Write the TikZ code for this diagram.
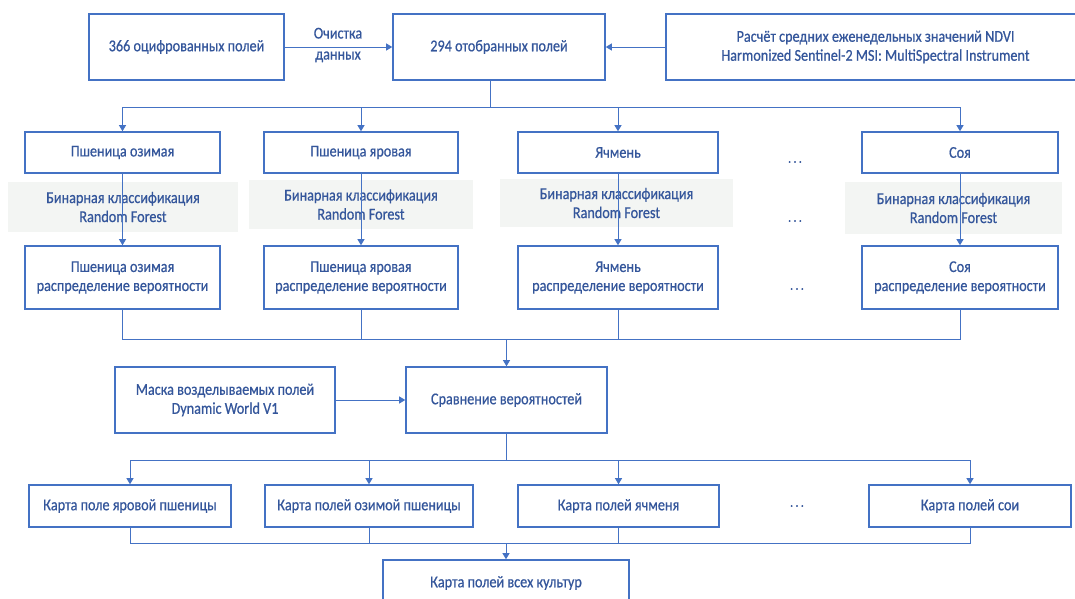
\documentclass[tikz,border=0pt]{standalone}
\usepackage{fontspec}
\setmainfont{Carlito}[FakeStretch=0.86,FakeBold=0.6]
\usetikzlibrary{arrows.meta}
\definecolor{lineblue}{RGB}{68,114,196}
\definecolor{txtblue}{RGB}{52,86,155}
\definecolor{shade}{RGB}{243,245,243}
\tikzset{
  box/.style={draw=lineblue, line width=1.6pt, fill=white, text=txtblue, align=center, inner sep=2pt, font=\fontsize{16.5}{19}\selectfont},
  shadebox/.style={fill=shade, draw=none, text=txtblue, align=center, inner sep=2pt, font=\fontsize{16.5}{19}\selectfont},
  lbl/.style={text=txtblue, align=center, inner sep=0pt, font=\fontsize{16.5}{21}\selectfont},
  dotlbl/.style={text=txtblue, inner sep=0pt, font=\fontsize{14}{18}\selectfont},
  conn/.style={draw=lineblue, line width=0.9pt},
  arr/.style={conn, -{Triangle[length=6pt,width=7pt]}}
}
\begin{document}
\begin{tikzpicture}[x=1pt,y=-1pt]
\clip (0,0) rectangle (1075,598);
\fill[white] (0,0) rectangle (1075,598);
% top row
\node[box, minimum width=195pt, minimum height=66pt] (A) at (186.5,47) {366 оцифрованных полей};
\node[box, minimum width=212pt, minimum height=66pt] (B) at (499,47) {294 отобранных полей};
\node[box, minimum width=419pt, minimum height=66pt] (C) at (875.5,47) {Расчёт средних еженедельных значений NDVI\\Harmonized Sentinel-2 MSI: MultiSpectral Instrument};
\draw[arr] (A.east) -- (B.west);
\node[lbl] (clean) at (338,45) {Очистка\\данных};
\draw[arr] (C.west) -- (B.east);
% row 1
\node[box, minimum width=195pt, minimum height=41pt] (r1a) at (122.5,152.5) {Пшеница озимая};
\node[box, minimum width=194pt, minimum height=41pt] (r1b) at (361,152.5) {Пшеница яровая};
\node[box, minimum width=200pt, minimum height=41pt] (r1c) at (618,152.5) {Ячмень};
\node[box, minimum width=196pt, minimum height=41pt] (r1d) at (960,152.5) {Соя};
% shades
\node[shadebox, minimum width=230pt, minimum height=50pt] (s1) at (123,207) {Бинарная классификация\\Random Forest};
\node[shadebox, minimum width=224pt, minimum height=49pt] (s2) at (361,204.5) {Бинарная классификация\\Random Forest};
\node[shadebox, minimum width=233pt, minimum height=48pt] (s3) at (616.5,203) {Бинарная классификация\\Random Forest};
\node[shadebox, minimum width=217pt, minimum height=52pt] (s4) at (953.5,208) {Бинарная классификация\\Random Forest};
% row 2
\node[box, minimum width=195pt, minimum height=63pt] (r2a) at (122.5,277.5) {Пшеница озимая\\распределение вероятности};
\node[box, minimum width=194pt, minimum height=63pt] (r2b) at (361,277.5) {Пшеница яровая\\распределение вероятности};
\node[box, minimum width=200pt, minimum height=63pt] (r2c) at (618,277.5) {Ячмень\\распределение вероятности};
\node[box, minimum width=196pt, minimum height=63pt] (r2d) at (960,277.5) {Соя\\распределение вероятности};
% dots
\node[dotlbl] (d1) at (795,162) {.\,.\,.};
\node[dotlbl] (d2) at (795,221) {.\,.\,.};
\node[dotlbl] (d3) at (797,289) {.\,.\,.};
% branching from B
\coordinate (bs) at (490,107);
\draw[conn] (B.south -| bs) -- (bs);
\draw[arr] (bs) -| (r1a.north);
\draw[arr] (bs) -| (r1b.north);
\draw[arr] (bs) -| (r1c.north);
\draw[arr] (bs) -| (r1d.north);
% row1 -> row2
\draw[arr] (r1a.south) -- (r2a.north);
\draw[arr] (r1b.south) -- (r2b.north);
\draw[arr] (r1c.south) -- (r2c.north);
\draw[arr] (r1d.south) -- (r2d.north);
% middle
\node[box, minimum width=220pt, minimum height=66pt] (mask) at (225,400) {Маска возделываемых полей\\Dynamic World V1};
\node[box, minimum width=201pt, minimum height=66pt] (cmp) at (506.5,400) {Сравнение вероятностей};
\coordinate (m1) at (506.5,339);
\draw[conn] (r2a.south) |- (m1);
\draw[conn] (r2b.south) |- (m1);
\draw[conn] (r2c.south) |- (m1);
\draw[conn] (r2d.south) |- (m1);
\draw[arr] (m1) -- (cmp.north);
\draw[arr] (mask.east) -- (cmp.west);
% row 3
\node[box, minimum width=202pt, minimum height=42pt] (r3a) at (130,506) {Карта поле яровой пшеницы};
\node[box, minimum width=208pt, minimum height=42pt] (r3b) at (369,506) {Карта полей озимой пшеницы};
\node[box, minimum width=201pt, minimum height=42pt] (r3c) at (618.5,506) {Карта полей ячменя};
\node[box, minimum width=202pt, minimum height=42pt] (r3d) at (970,506) {Карта полей сои};
\node[dotlbl] (d4) at (797,506) {.\,.\,.};
\coordinate (m2) at (506.5,460);
\draw[conn] (cmp.south) -- (m2);
\draw[arr] (m2) -| (r3a.north);
\draw[arr] (m2) -| (r3b.north);
\draw[arr] (m2) -| (r3c.north);
\draw[arr] (m2) -| (r3d.north);
% final
\node[box, minimum width=246pt, minimum height=46pt] (fin) at (506,583) {Карта полей всех культур};
\coordinate (m3) at (506,543);
\draw[conn] (r3a.south) |- (m3);
\draw[conn] (r3b.south) |- (m3);
\draw[conn] (r3c.south) |- (m3);
\draw[conn] (r3d.south) |- (m3);
\draw[arr] (m3) -- (fin.north);
\end{tikzpicture}
\end{document}
